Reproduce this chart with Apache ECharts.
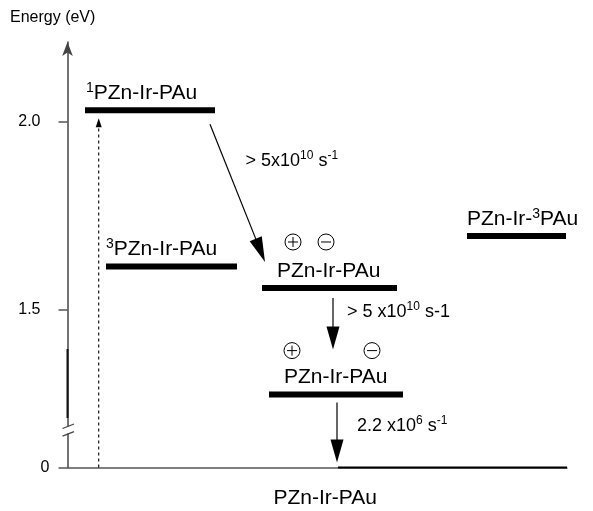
<!DOCTYPE html>
<html><head><meta charset="utf-8">
<script src="https://cdn.jsdelivr.net/npm/echarts@6/dist/echarts.min.js"></script>
<style>html,body{margin:0;padding:0;background:#fff}#c{width:593px;height:511px}</style>
</head><body><div id="c"></div>
<script>
// ---------------- data ----------------
const levelLabels   = ['^{1}PZn-Ir-PAu', '^{3}PZn-Ir-PAu', 'PZn-Ir-PAu', 'PZn-Ir-^{3}PAu', 'PZn-Ir-PAu', ''];
const levelEnergies = [2.03, 1.615, 1.558, 1.696, 1.275, 0];          // eV
const chargeSep     = [false, false, true, false, true, false];        // radical-ion pair states
const rateFrom      = [0, 2, 4];
const rateTo        = [2, 4, 5];
const rateLabels    = ['> 5x10^{10} s^{-1}', '> 5 x10^{10} s-1', '2.2 x10^{6} s^{-1}'];
const excitationFrom = 5, excitationTo = 0;
const yTickValues   = [0, 1.5, 2.0];
const yTickLabels   = ['0', '1.5', '2.0'];
const xAxisName     = 'PZn-Ir-PAu';
const yAxisName     = 'Energy (eV)';

// ---------------- axis (broken: everything below BREAK_BELOW drawn at axis bottom) ----------------
const AXIS_MIN = 1.0815, AXIS_MAX = 2.211, BREAK_BELOW = 1.0;
function yv(e) { return e < BREAK_BELOW ? AXIS_MIN + e : e; }

// ---------------- layout ----------------
const FONT = "'Liberation Sans', Arial, Helvetica, sans-serif";
const levelSpan  = [[17.5,147.5],[38.5,169.5],[194.5,329.5],[399.5,498.5],[201.5,335.5],[270.5,499.5]];
const levelWidth = [6, 6, 6, 6, 6, 2];
const labelDx    = [1, 0, 15, 0, 15, 0];
const chargeDx   = [null, null, [31, 64], null, [23, 103], null];
const chargeDy   = [0, 0, -46, 0, -44, 0];
const arrowX     = [[142.5, 197.5], [265.5, 265.5], [269.5, 269.5]];
const arrowDy    = [[14, -26], [10, -45], [8, -5]];
const rateLabelOff = [[8, -32], [14, -12], [20, -7]];
const excitationX = 31.2;

function richText(s, n, sup) {
  return ('{' + n + '|' + s.replace(/\^\{([^}]*)\}/g, '}{' + sup + '|$1}{' + n + '|') + '}').replace(/\{[a-z]+\|\}/g, '');
}
const RICH = {
  n: { fontSize: 21, fontFamily: FONT, fill: '#000', lineHeight: 24 },
  s: { fontSize: 14, fontFamily: FONT, fill: '#000', lineHeight: 13, verticalAlign: 'top' },
  r: { fontSize: 18, fontFamily: FONT, fill: '#000', lineHeight: 22 },
  q: { fontSize: 12, fontFamily: FONT, fill: '#000', lineHeight: 11, verticalAlign: 'top' }
};

function arrowEls(p0, p1, headLen, hw, lw, dashed) {
  const dx = p1[0]-p0[0], dy = p1[1]-p0[1], L = Math.hypot(dx, dy);
  const ux = dx/L, uy = dy/L, nx = -uy, ny = ux;
  const bx = p1[0]-ux*headLen, by = p1[1]-uy*headLen;
  return [
    { type: 'line', shape: { x1: p0[0], y1: p0[1], x2: bx+ux*2, y2: by+uy*2 },
      style: { stroke: '#000', lineWidth: lw, lineDash: dashed ? [3, 3] : null } },
    { type: 'polygon', shape: { points: [[p1[0], p1[1]], [bx+nx*hw, by+ny*hw], [bx-nx*hw, by-ny*hw]] },
      style: { fill: '#000' } }
  ];
}

function chargeEls(cx, cy, plus) {
  const els = [
    { type: 'circle', shape: { cx, cy, r: 8 }, style: { fill: 'none', stroke: '#000', lineWidth: 1 } },
    { type: 'line', shape: { x1: cx-5, y1: cy, x2: cx+5, y2: cy }, style: { stroke: '#000', lineWidth: 1 } }
  ];
  if (plus) els.push({ type: 'line', shape: { x1: cx, y1: cy-5, x2: cx, y2: cy+5 }, style: { stroke: '#000', lineWidth: 1 } });
  return els;
}

const tickVals = yTickValues.map(yv);
const chart = echarts.init(document.getElementById('c'), null, { renderer: 'canvas' });
chart.setOption({
  animation: false,
  backgroundColor: '#fff',
  title: { text: yAxisName, left: 10, top: 10, padding: 0,
    textStyle: { fontSize: 16, fontWeight: 'normal', fontFamily: FONT, color: '#000' } },
  grid: { left: 67.5, right: 26, top: 42, bottom: 43.5, containLabel: false, outerBoundsMode: 'none' },
  xAxis: {
    type: 'value', min: 0, max: 499.5,
    name: xAxisName, nameLocation: 'middle', nameGap: 20,
    nameTextStyle: { fontSize: 21, fontFamily: FONT, color: '#000', padding: [0, 0, 0, 16] },
    axisLine: { show: true, lineStyle: { color: '#555', width: 1.5 } },
    axisTick: { show: false }, axisLabel: { show: false }, splitLine: { show: false }
  },
  yAxis: {
    type: 'value', min: AXIS_MIN, max: AXIS_MAX,
    axisLine: { show: true, symbol: ['none', 'arrow'], symbolSize: [8, 14],
      lineStyle: { color: '#444', width: 1.5 } },
    axisTick: { show: true, length: 9, customValues: tickVals, lineStyle: { color: '#555', width: 1.5 } },
    axisLabel: { show: true, customValues: tickVals, margin: 18, fontSize: 16, fontFamily: FONT, color: '#000',
      rich: { w: { fontSize: 16, fontFamily: FONT, color: '#000', padding: [0, 9, 0, 0] },
              z: { fontSize: 16, fontFamily: FONT, color: '#000' } },
      formatter: v => { const i = tickVals.findIndex(t => Math.abs(t - v) < 1e-6);
        if (i < 0) return ''; return yTickValues[i] === 0 ? '{z|' + yTickLabels[i] + '}' : '{w|' + yTickLabels[i] + '}'; } },
    splitLine: { show: false }
  },
  series: [
    { // energy levels with their labels and charge marks
      type: 'custom', coordinateSystem: 'cartesian2d', clip: false, silent: true, z: 3,
      data: levelEnergies.map((e, i) => [levelSpan[i][0], yv(e)]),
      renderItem: (params, api) => {
        const i = params.dataIndex, e = yv(levelEnergies[i]);
        const p0 = api.coord([levelSpan[i][0], e]), p1 = api.coord([levelSpan[i][1], e]);
        const ch = [{ type: 'line', shape: { x1: p0[0], y1: p0[1], x2: p1[0], y2: p1[1] },
          style: { stroke: '#000', lineWidth: levelWidth[i], lineCap: 'butt' } }];
        if (levelLabels[i]) ch.push({ type: 'text', style: {
          text: richText(levelLabels[i], 'n', 's'), x: p0[0] + labelDx[i], y: p0[1] - levelWidth[i]/2 - 2,
          align: 'left', verticalAlign: 'bottom', rich: RICH } });
        if (chargeSep[i]) {
          ch.push(...chargeEls(p0[0] + chargeDx[i][0], p0[1] + chargeDy[i], true));
          ch.push(...chargeEls(p0[0] + chargeDx[i][1], p0[1] + chargeDy[i], false));
        }
        return { type: 'group', children: ch };
      }
    },
    { // decay arrows with rates
      type: 'custom', coordinateSystem: 'cartesian2d', clip: false, silent: true, z: 4,
      data: rateFrom.map((f, k) => [arrowX[k][0], yv(levelEnergies[f])]),
      renderItem: (params, api) => {
        const k = params.dataIndex;
        const a = api.coord([arrowX[k][0], yv(levelEnergies[rateFrom[k]])]);
        const b = api.coord([arrowX[k][1], yv(levelEnergies[rateTo[k]])]);
        a[1] += arrowDy[k][0]; b[1] += arrowDy[k][1];
        const ch = arrowEls(a, b, k === 0 ? 25 : 23, 6.5, 1.2, false);
        ch.push({ type: 'text', style: { text: richText(rateLabels[k], 'r', 'q'),
          x: (a[0]+b[0])/2 + rateLabelOff[k][0], y: (a[1]+b[1])/2 + rateLabelOff[k][1],
          align: 'left', verticalAlign: 'middle', rich: RICH } });
        return { type: 'group', children: ch };
      }
    },
    { // excitation (dashed) arrow and axis break marks
      type: 'custom', coordinateSystem: 'cartesian2d', clip: false, silent: true, z: 5,
      data: [[excitationX, yv(levelEnergies[excitationFrom])]],
      renderItem: (params, api) => {
        const a = api.coord([excitationX, yv(levelEnergies[excitationFrom])]);
        const b = api.coord([excitationX, yv(levelEnergies[excitationTo])]);
        b[1] += 8;
        const ch = arrowEls(a, b, 9, 3, 1.1, true);
        const o = api.coord([0, AXIS_MIN]);
        const s1 = api.coord([0, 1.396]), s2 = api.coord([0, 1.213]);
        ch.push({ type: 'line', shape: { x1: o[0], y1: s1[1], x2: o[0], y2: s2[1] }, style: { stroke: '#111', lineWidth: 2 } });
        ch.push({ type: 'rect', shape: { x: o[0]-3, y: o[1]-41, width: 6, height: 7 }, style: { fill: '#fff' } });
        [-41.5, -33.8].forEach(d => ch.push({ type: 'line',
          shape: { x1: o[0]-5, y1: o[1]+d+2.5, x2: o[0]+6.5, y2: o[1]+d-2 }, style: { stroke: '#444', lineWidth: 1.3 } }));
        return { type: 'group', children: ch };
      }
    }
  ]
});
</script></body></html>
